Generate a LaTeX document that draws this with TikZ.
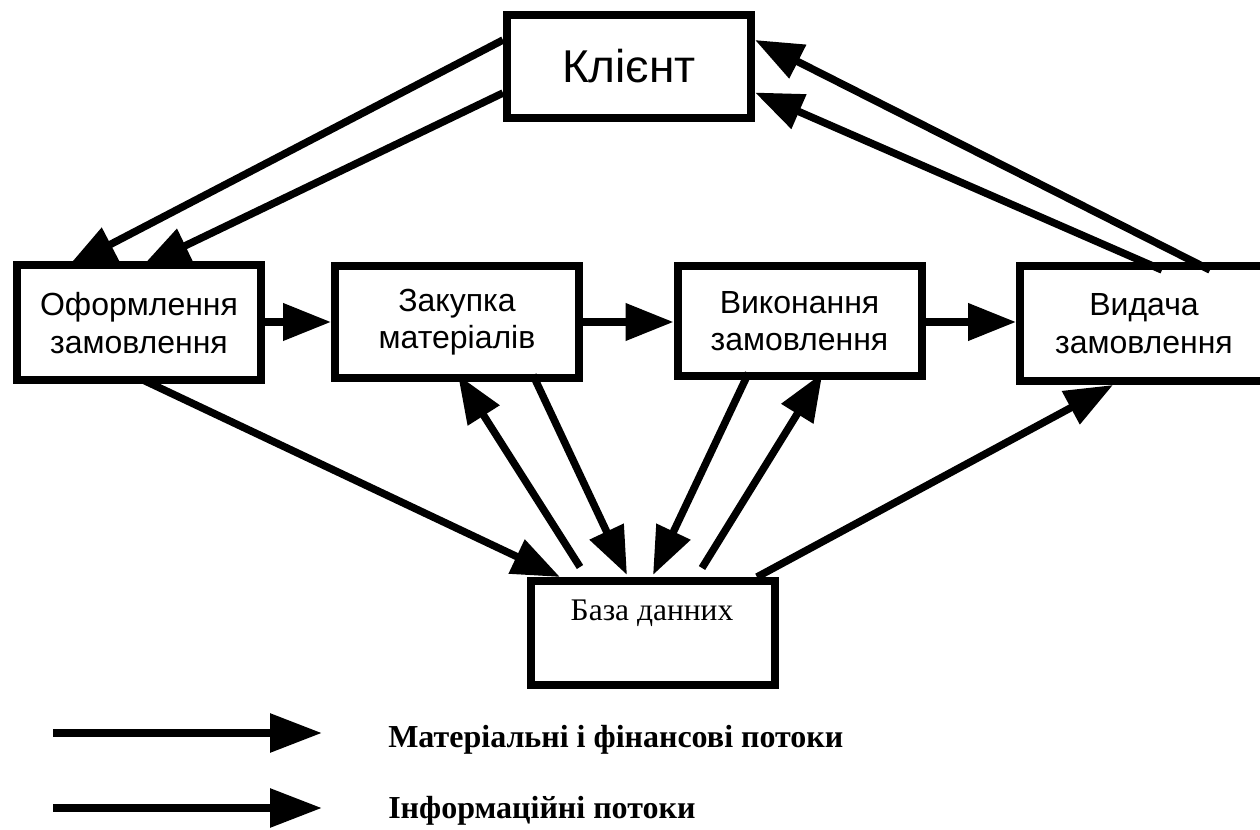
\documentclass[tikz,border=0pt]{standalone}
\usepackage{fontspec}
\setmainfont{Liberation Serif}
\newfontfamily\arialf{Liberation Sans}
\usetikzlibrary{arrows.meta,calc}
\tikzset{
  box/.style={draw=black, line width=6pt, fill=white, rectangle, inner sep=0pt,
              minimum width=244*0.75pt, minimum height=112*0.75pt},
  boxtext/.style={font=\arialf\fontsize{24pt}{28pt}\selectfont, align=center},
  flow/.style={line width=5.6pt, -{Triangle[length=36pt,width=27pt]}},
  legflow/.style={line width=6pt, -{Triangle[length=39pt,width=28pt]}},
  legtext/.style={font=\bfseries\fontsize{24pt}{28pt}\selectfont, anchor=base west, inner sep=0pt}
}
\begin{document}
\begin{tikzpicture}[x=0.75pt,y=-0.75pt]
\useasboundingbox (0,0) rectangle (1260,830);
% nodes
\node[box, boxtext, minimum height=103*0.75pt, font=\arialf\fontsize{34.5pt}{40pt}\selectfont] (client) at (629,66.5) {Клієнт};
\node[box, boxtext, minimum height=115*0.75pt] (oform) at (139,323) {Оформлення\\замовлення};
\node[box, boxtext] (zak) at (457,322) {Закупка\\матеріалів};
\node[box, boxtext, minimum height=110*0.75pt] (vyk) at (799.5,321) {Виконання\\замовлення};
\node[box, boxtext, minimum height=115*0.75pt, minimum width=248*0.75pt] (vyd) at (1144,323.5) {Видача\\замовлення};
\node[box, minimum height=104*0.75pt] (db) at (653,633) {};
\node[font=\fontsize{23.6pt}{27pt}\selectfont, anchor=base, inner sep=0pt] (dbl) at (652,620) {База данних};
% connectors
\draw[flow] ($(client.west)+(0,-26.5)$) -- ($(oform.north)+(-71,5)$);
\draw[flow] ($(client.west)+(0,26.5)$) -- ($(oform.north)+(3,5)$);
\draw[flow] ($(vyd.north)+(66,8)$) -- ($(client.east)+(0,-26.5)$);
\draw[flow] ($(vyd.north)+(18,8)$) -- ($(client.east)+(0,26)$);
\draw[flow] (oform.east |- zak.east) -- (zak.west);
\draw[flow] (zak.east) -- (vyk.west |- zak.east);
\draw[flow] (vyk.east |- zak.east) -- (vyd.west |- zak.east);
\draw[flow] ($(oform.south)+(3,-5)$) -- ($(db.north)+(-93,0)$);
\draw[flow] ($(db.north)+(-73,-10)$) -- ($(zak.south)+(1,-7)$);
\draw[flow] ($(zak.south)+(76,-7)$) -- ($(db.north)+(-26,-2)$);
\draw[flow] ($(vyk.south)+(-51,-7)$) -- ($(db.north)+(0,-2)$);
\draw[flow] ($(db.north)+(49,-9)$) -- ($(vyk.south)+(23,-7)$);
\draw[flow] ($(db.north)+(104,0)$) -- ($(vyd.south)+(-31,0)$);
% legend
\coordinate (l1s) at (53,733);
\coordinate (l1e) at (322,733);
\coordinate (l2s) at (53,808);
\coordinate (l2e) at (322,808);
\draw[legflow] (l1s) -- (l1e);
\draw[legflow] (l2s) -- (l2e);
\node[legtext] (t1) at (388,747) {Матеріальні і фінансові потоки};
\node[legtext] (t2) at (388,818) {Інформаційні потоки};
\end{tikzpicture}
\end{document}
